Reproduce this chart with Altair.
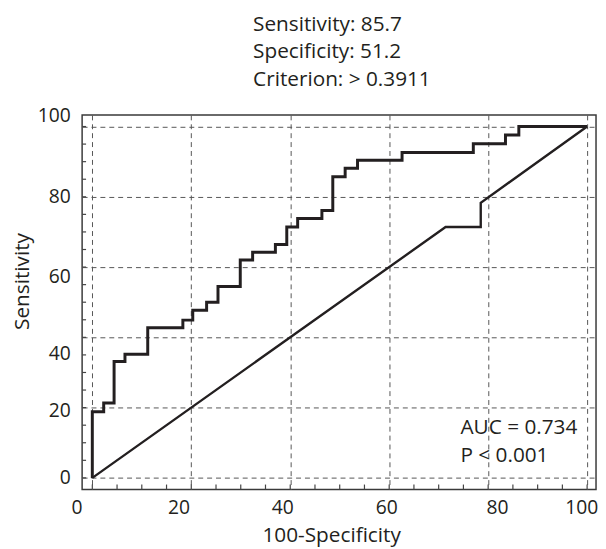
import altair as alt
import pandas as pd

# ROC step curve (100-Specificity, Sensitivity) corner points
roc_x = [0, 0, 2.3, 4.4, 6.6, 11.2, 18.3, 20.3, 23.1, 25.4, 29.9, 32.4, 37.0, 39.3,
         41.5, 46.4, 48.6, 51.1, 53.6, 62.6, 77.0, 83.5, 86.2, 100]
roc_y = [0, 18.8, 21.3, 33.1, 35.2, 42.7, 44.9, 47.7, 50.0, 54.5, 62.0, 64.2, 66.4, 71.4,
         73.8, 76.1, 85.7, 88.1, 90.4, 92.6, 95.1, 97.6, 100, 100]

# reference (second) line
ref_x = [0, 71.4, 78.5, 78.5, 100]
ref_y = [0, 71.4, 71.4, 78.3, 100]

tick_labels = [0, 20, 40, 60, 80, 100]
minor_ticks = [0, 5, 10, 15, 20, 25, 30, 35, 40, 45, 50, 55, 60, 65, 70, 75, 80, 85, 90, 95, 100]
# label shifts seen in the reference (pixels)
x_label_shift = [-16, -13, -8, -3, 9, -6]
y_label_shift = [0, 3, 16, 10, 0, -11]

title_lines = ["Sensitivity: 85.7", "Specificity: 51.2", "Criterion: > 0.3911"]
ann_text = ["AUC = 0.734", "P < 0.001"]
ann_x = [74.4, 74.4]
ann_y = [14.1, 6.2]

FONT = "Open Sans"
INK = "#231f20"
FS = 21
LFS = 19.5

roc_df = pd.DataFrame({"x": roc_x, "y": roc_y, "i": list(range(len(roc_x)))})
ref_df = pd.DataFrame({"x": ref_x, "y": ref_y, "i": list(range(len(ref_x)))})
tick_df = pd.DataFrame({"x": minor_ticks, "y": minor_ticks})
ann_df = pd.DataFrame({"x": ann_x, "y": ann_y, "label": ann_text})


def shift_cond(shifts):
    return {
        "condition": [{"test": f"datum.value === {v}", "value": s}
                      for v, s in zip(tick_labels, shifts) if s != 0],
        "value": 0,
    }


xscale = alt.Scale(domain=[-2.06, 101.8], nice=False, zero=False)
yscale = alt.Scale(domain=[-3.3, 103.3], nice=False, zero=False)

xaxis = alt.Axis(values=tick_labels, grid=True, gridDash=[5, 4], gridColor="#555555",
                 gridWidth=1, ticks=False, domain=False, labelFont=FONT, labelFontSize=LFS,
                 labelColor=INK, labelPadding=9, labelOffset=shift_cond(x_label_shift),
                 title="100-Specificity", titleFont=FONT,
                 titleFontSize=FS, titleFontWeight="normal", titleColor=INK,
                 titleX=252, titleY=47, titleBaseline="middle")
yaxis = alt.Axis(values=tick_labels, grid=True, gridDash=[5, 4], gridColor="#555555",
                 gridWidth=1, ticks=False, domain=False, labelFont=FONT, labelFontSize=LFS,
                 labelColor=INK, labelPadding=12, labelOffset=shift_cond(y_label_shift),
                 title="Sensitivity", titleFont=FONT,
                 titleFontSize=FS, titleFontWeight="normal", titleColor=INK,
                 titleX=-60, titleY=168, titleBaseline="middle")

X = alt.X("x:Q", scale=xscale, axis=xaxis)
Y = alt.Y("y:Q", scale=yscale, axis=yaxis)

roc = alt.Chart(roc_df).mark_line(interpolate="step-after", color=INK, strokeWidth=3).encode(
    x=X, y=Y, order="i:Q",
)

ref = alt.Chart(ref_df).mark_line(color=INK, strokeWidth=2.4).encode(
    x=X, y=Y, order="i:Q",
)

bottom_ticks = alt.Chart(tick_df).mark_rule(color="#444444", strokeWidth=1.2).encode(
    x=X, y=alt.value(379), y2=alt.value(374),
)
left_ticks = alt.Chart(tick_df).mark_rule(color="#444444", strokeWidth=1.2).encode(
    y=Y, x=alt.value(0), x2=alt.value(4),
)

ann = alt.Chart(ann_df).mark_text(align="left", baseline="middle", font=FONT,
                                   fontSize=FS, color=INK).encode(
    x=X, y=Y, text="label:N",
)

chart = alt.layer(roc, bottom_ticks, left_ticks, ref, ann).properties(
    width=520,
    height=379,
    autosize=alt.AutoSizeParams(type="none"),
    padding={"left": 75, "top": 105, "right": 2, "bottom": 55},
    title=alt.TitleParams(text=title_lines, anchor="start", frame="group", dx=173,
                          font=FONT, fontSize=FS, fontWeight="normal", color=INK,
                          lineHeight=28, offset=16),
).configure_view(stroke="#3a3a3a", strokeWidth=1.5)

chart.save("out.html", embed_options={"renderer": "svg", "actions": False})
